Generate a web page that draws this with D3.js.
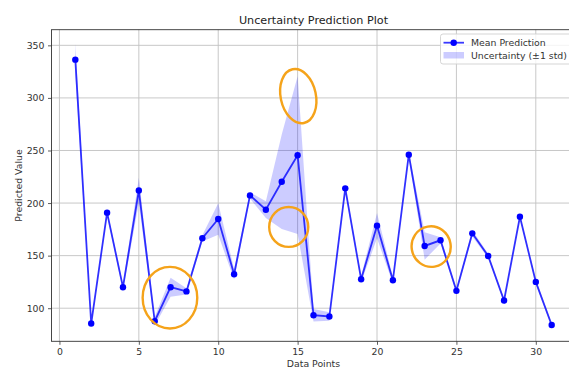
<!DOCTYPE html>
<html>
<head>
<meta charset="utf-8">
<script src="https://cdn.jsdelivr.net/npm/d3@7"></script>
<style>
  html, body { margin: 0; padding: 0; background: #fff; }
  svg { display: block; font-family: "DejaVu Sans", sans-serif; }
</style>
</head>
<body>
<div id="chart"></div>
<script>
// data
const pointIds = [1, 2, 3, 4, 5, 6, 7, 8, 9, 10, 11, 12, 13, 14, 15, 16,
  17, 18, 19, 20, 21, 22, 23, 24, 25, 26, 27, 28, 29, 30, 31];
const meanPred = [336.4, 85.4, 190.9, 120, 212, 87.6, 120, 116, 166.5, 184.8,
  132.3, 207.3, 193.7, 220.3, 245.5, 93.3, 92.1, 214, 127.6, 178.5, 126.6,
  246, 159.2, 164.6, 116.5, 171.2, 149.7, 107.3, 187, 125, 84];
const stdPred = [15, 3, 3, 3, 12, 4, 9, 3, 3, 15, 5, 3, 8, 45, 75, 6, 4, 3, 3,
  12, 3, 3, 13, 3, 2, 3, 2, 2, 2, 2, 2];
const xTicks = [0, 5, 10, 15, 20, 25, 30];
const yTicks = [100, 150, 200, 250, 300, 350];
// hand drawn orange marks on the picture: centre x, centre y, radii (data units), tilt
const marksX = [15.04, 14.44, 6.96, 23.41];
const marksY = [301.7, 177.3, 110, 158.6];
const marksRx = [1.11, 1.23, 1.72, 1.23];
const marksRy = [26.1, 19, 29.3, 19.3];
const marksTilt = [-12, 0, 0, -10];

const W = 569, H = 369;
const margin = { top: 29.7, left: 51.5, right: 575.5, bottom: 341.3 };

let rows = pointIds.map((d, i) => ({ x: d, m: meanPred[i], s: stdPred[i] }));

// matplotlib style 5% padding
let lo = d3.min(rows, d => d.m - d.s), hi = d3.max(rows, d => d.m + d.s);
let pad = (hi - lo) * 0.05;
let xPad = (d3.max(pointIds) - d3.min(pointIds)) * 0.05;

let x = d3.scaleLinear()
  .domain([d3.min(pointIds) - xPad, d3.max(pointIds) + xPad])
  .range([margin.left, margin.right]);
let y = d3.scaleLinear()
  .domain([lo - pad, hi + pad])
  .range([margin.bottom, margin.top]);

let svg = d3.select('#chart').append('svg')
  .attr('width', W)
  .attr('height', H);

// grid
let grid = svg.append('g').attr('stroke', '#c2c2c2').attr('stroke-width', 0.9);
grid.selectAll('.gx').data(xTicks).enter().append('line')
  .attr('x1', d => x(d)).attr('x2', d => x(d))
  .attr('y1', margin.top).attr('y2', margin.bottom);
grid.selectAll('.gy').data(yTicks).enter().append('line')
  .attr('x1', margin.left).attr('x2', margin.right)
  .attr('y1', d => y(d)).attr('y2', d => y(d));

// uncertainty band
let band = d3.area()
  .x(d => x(d.x))
  .y0(d => y(d.m - d.s))
  .y1(d => y(d.m + d.s));
svg.append('path')
  .datum(rows)
  .attr('d', band)
  .attr('fill', '#0000ff')
  .attr('fill-opacity', 0.2);

// mean line
let line = d3.line().x(d => x(d.x)).y(d => y(d.m));
svg.append('path')
  .datum(rows)
  .attr('d', line)
  .attr('fill', 'none')
  .attr('stroke', '#0000ff')
  .attr('stroke-opacity', 0.78)
  .attr('stroke-width', 1.8);

svg.selectAll('.dot').data(rows).enter().append('circle')
  .attr('cx', d => x(d.x))
  .attr('cy', d => y(d.m))
  .attr('r', 3.2)
  .attr('fill', '#0000ff');

// orange hand drawn rings
svg.selectAll('.mark').data(marksX).enter().append('ellipse')
  .attr('cx', 0)
  .attr('cy', 0)
  .attr('transform', (d, i) => `translate(${x(d)},${y(marksY[i])}) rotate(${marksTilt[i]})`)
  .attr('rx', (d, i) => x(marksRx[i]) - x(0))
  .attr('ry', (d, i) => y(0) - y(marksRy[i]))
  .attr('fill', 'none')
  .attr('stroke', '#f5a31a')
  .attr('stroke-width', 2.4);

// axes
let xAxis = d3.axisBottom(x).tickValues(xTicks).tickSize(3.5).tickPadding(3.5);
let yAxis = d3.axisLeft(y).tickValues(yTicks).tickSize(3.5).tickPadding(3.5);

let gx = svg.append('g')
  .attr('transform', `translate(0,${margin.bottom})`)
  .call(xAxis);
let gy = svg.append('g')
  .attr('transform', `translate(${margin.left},0)`)
  .call(yAxis);

[gx, gy].forEach(g => {
  g.select('.domain').remove();
  g.selectAll('line').attr('stroke', '#333').attr('stroke-width', 0.8);
  g.selectAll('text')
    .attr('fill', '#333')
    .attr('font-size', 9.33)
    .attr('font-family', '"DejaVu Sans", sans-serif');
});

// spines (right one falls outside the picture)
svg.append('rect')
  .attr('x', margin.left).attr('y', margin.top)
  .attr('width', margin.right - margin.left)
  .attr('height', margin.bottom - margin.top)
  .attr('fill', 'none')
  .attr('stroke', '#333')
  .attr('stroke-width', 0.9);

// titles
svg.append('text')
  .attr('x', (margin.left + margin.right) / 2)
  .attr('y', 23.5)
  .attr('text-anchor', 'middle')
  .attr('font-size', 11.2)
  .attr('fill', '#222')
  .text('Uncertainty Prediction Plot');

svg.append('text')
  .attr('x', (margin.left + margin.right) / 2)
  .attr('y', 367)
  .attr('text-anchor', 'middle')
  .attr('font-size', 9.33)
  .attr('fill', '#333')
  .text('Data Points');

svg.append('text')
  .attr('transform', `translate(22,${(margin.top + margin.bottom) / 2}) rotate(-90)`)
  .attr('text-anchor', 'middle')
  .attr('font-size', 9.33)
  .attr('fill', '#333')
  .text('Predicted Value');

// legend
let lg = svg.append('g').attr('transform', 'translate(440.5,34)');
lg.append('rect')
  .attr('width', 132).attr('height', 30)
  .attr('rx', 2.5)
  .attr('fill', '#fff').attr('fill-opacity', 0.8)
  .attr('stroke', '#d0d0d0').attr('stroke-width', 0.9);
lg.append('line')
  .attr('x1', 3).attr('x2', 23.5).attr('y1', 8.7).attr('y2', 8.7)
  .attr('stroke', '#0000ff').attr('stroke-opacity', 0.78).attr('stroke-width', 1.8);
lg.append('circle').attr('cx', 13.2).attr('cy', 8.7).attr('r', 3.2).attr('fill', '#0000ff');
lg.append('rect')
  .attr('x', 3).attr('y', 18).attr('width', 20.5).attr('height', 6.5)
  .attr('fill', '#0000ff').attr('fill-opacity', 0.2);
lg.append('text').attr('x', 30.5).attr('y', 12).attr('font-size', 9.33).attr('fill', '#333')
  .text('Mean Prediction');
lg.append('text').attr('x', 30.5).attr('y', 24.5).attr('font-size', 9.33).attr('fill', '#333')
  .text('Uncertainty (±1 std)');
</script>
</body>
</html>
